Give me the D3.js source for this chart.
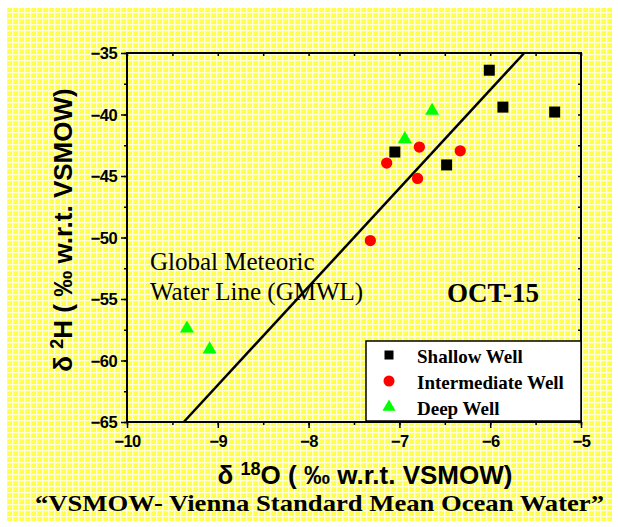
<!DOCTYPE html>
<html>
<head>
<meta charset="utf-8">
<script src="https://cdn.jsdelivr.net/npm/d3@7"></script>
<style>
  body { margin: 0; background: #fff; }
  svg { display: block; }
</style>
</head>
<body>
<div id="chart"></div>
<script>
// data
var shallowX = [-6.01, -5.86, -5.29, -7.05, -6.48];
var shallowY = [-36.4, -39.4, -39.8, -43.05, -44.1];
var intermX = [-7.14, -6.78, -6.33, -6.80, -7.32];
var intermY = [-43.95, -42.65, -42.95, -45.2, -50.25];
var deepX = [-6.64, -6.94, -9.34, -9.09];
var deepY = [-39.7, -42.0, -57.4, -59.1];
var xTicks = [-10, -9, -8, -7, -6, -5];
var yTicks = [-65, -60, -55, -50, -45, -40, -35];
var seriesNames = ["Shallow Well", "Intermediate Well", "Deep Well"];
// GMWL: d2H = 8 * d18O + 10
var gmwlX = [-9.375, -5.625];

var W = 618, H = 527;
var margin = {top: 53, right: 37, bottom: 105, left: 127};
var width = W - margin.left - margin.right,
    height = H - margin.top - margin.bottom;

var svg = d3.select("#chart").append("svg")
    .attr("width", W)
    .attr("height", H);

// graph paper background
var defs = svg.append("defs");
var pat = defs.append("pattern")
    .attr("id", "paper")
    .attr("width", 6).attr("height", 6)
    .attr("patternUnits", "userSpaceOnUse");
pat.append("rect").attr("width", 6).attr("height", 6).attr("fill", "#ffff4a");
pat.append("rect").attr("x", 0).attr("y", 0).attr("width", 6).attr("height", 1.3).attr("fill", "#ffffd8");
pat.append("rect").attr("x", 0).attr("y", 0).attr("width", 1.3).attr("height", 6).attr("fill", "#ffffd8");
pat.append("rect").attr("x", 3).attr("y", 3).attr("width", 1).attr("height", 1).attr("fill", "#ffffb0");

svg.append("rect")
    .attr("x", 7).attr("y", 8)
    .attr("width", 605).attr("height", 513)
    .attr("fill", "url(#paper)");

var g = svg.append("g")
    .attr("transform", "translate(" + margin.left + "," + margin.top + ")");

var x = d3.scaleLinear().domain([-10, -5]).range([0, width]);
var y = d3.scaleLinear().domain([-65, -35]).range([height, 0]);

var minorX = d3.range(-10, -4.99, 0.5);
var minorY = d3.range(-65, -34.99, 2.5);

// minor ticks
g.append("g")
    .attr("transform", "translate(0," + height + ")")
    .call(d3.axisBottom(x).tickValues(minorX).tickSize(3).tickFormat(""));
g.append("g")
    .call(d3.axisLeft(y).tickValues(minorY).tickSize(3).tickFormat(""));
g.append("g")
    .call(d3.axisTop(x).tickValues(minorX).tickSize(-3).tickFormat(""));
g.append("g")
    .attr("transform", "translate(" + width + ",0)")
    .call(d3.axisRight(y).tickValues(minorY).tickSize(-3).tickFormat(""));

// major ticks + labels
var xAxis = g.append("g")
    .attr("transform", "translate(0," + height + ")")
    .call(d3.axisBottom(x).tickValues(xTicks).tickSize(6).tickPadding(5).tickFormat(d3.format("d")));
var yAxis = g.append("g")
    .call(d3.axisLeft(y).tickValues(yTicks).tickSize(6).tickPadding(4).tickFormat(d3.format("d")));

g.selectAll(".domain").remove();
g.selectAll(".tick line").attr("stroke", "#000").attr("stroke-width", 1.5);
g.selectAll(".tick text")
    .attr("fill", "#000")
    .style("font-family", "'Liberation Sans', Arial, sans-serif")
    .style("font-weight", "bold")
    .style("font-size", "16.5px")
    .style("letter-spacing", "-0.6px");
xAxis.selectAll(".tick text").attr("dy", "0.85em");
yAxis.selectAll(".tick text").attr("dy", "0.36em");

// frame
g.append("rect")
    .attr("width", width).attr("height", height)
    .attr("fill", "none")
    .attr("stroke", "#000")
    .attr("stroke-width", 2);

// GMWL line
var line = d3.line()
    .x(function(d) { return x(d); })
    .y(function(d) { return y(8 * d + 10); });
g.append("path")
    .datum(gmwlX)
    .attr("d", line)
    .attr("fill", "none")
    .attr("stroke", "#000")
    .attr("stroke-width", 2.5);

// line annotation
var note = g.append("text")
    .style("font-family", "'Liberation Serif', 'Times New Roman', serif")
    .style("font-size", "25px")
    .attr("fill", "#000");
note.append("tspan").attr("x", 23).attr("y", 217).text("Global Meteoric");
note.append("tspan").attr("x", 23).attr("y", 247).text("Water Line (GMWL)");

g.append("text")
    .attr("x", 320).attr("y", 249)
    .style("font-family", "'Liberation Serif', 'Times New Roman', serif")
    .style("font-weight", "bold")
    .style("font-size", "27px")
    .attr("fill", "#000")
    .text("OCT-15");

// points
var shallow = shallowX.map(function(d, i) { return {x: d, y: shallowY[i]}; });
var interm = intermX.map(function(d, i) { return {x: d, y: intermY[i]}; });
var deep = deepX.map(function(d, i) { return {x: d, y: deepY[i]}; });

g.selectAll(".shallow").data(shallow).enter().append("path")
    .attr("class", "shallow")
    .attr("transform", function(d) { return "translate(" + x(d.x) + "," + y(d.y) + ")"; })
    .attr("d", d3.symbol().type(d3.symbolSquare).size(121))
    .attr("fill", "#000");

g.selectAll(".interm").data(interm).enter().append("path")
    .attr("class", "interm")
    .attr("transform", function(d) { return "translate(" + x(d.x) + "," + y(d.y) + ")"; })
    .attr("d", d3.symbol().type(d3.symbolCircle).size(100))
    .attr("fill", "#ff0000");

g.selectAll(".deep").data(deep).enter().append("path")
    .attr("class", "deep")
    .attr("transform", function(d) { return "translate(" + x(d.x) + "," + y(d.y) + ")"; })
    .attr("d", d3.symbol().type(d3.symbolTriangle).size(85))
    .attr("fill", "#00ff00");

// legend
var lg = g.append("g").attr("transform", "translate(" + (366 - margin.left) + "," + (341 - margin.top) + ")");
lg.append("rect")
    .attr("width", 581 - 366).attr("height", 80)
    .attr("fill", "#fff")
    .attr("stroke", "#000")
    .attr("stroke-width", 1.5);

var legSymbols = [
    {type: d3.symbolSquare, size: 81, color: "#000"},
    {type: d3.symbolCircle, size: 95, color: "#ff0000"},
    {type: d3.symbolTriangle, size: 75, color: "#00ff00"}
];
var items = lg.selectAll(".item").data(seriesNames).enter().append("g")
    .attr("class", "item")
    .attr("transform", function(d, i) { return "translate(0," + (14 + i * 26) + ")"; });
items.append("path")
    .attr("transform", "translate(23,0)")
    .attr("d", function(d, i) { return d3.symbol().type(legSymbols[i].type).size(legSymbols[i].size)(); })
    .attr("fill", function(d, i) { return legSymbols[i].color; });
items.append("text")
    .attr("x", 51)
    .attr("y", 8)
    .style("font-family", "'Liberation Serif', 'Times New Roman', serif")
    .style("font-weight", "bold")
    .style("font-size", "19px")
    .attr("fill", "#000")
    .text(function(d) { return d; });

// axis titles
var xt = svg.append("text")
    .attr("x", 365).attr("y", 484)
    .attr("text-anchor", "middle")
    .style("font-family", "'Liberation Sans', Arial, sans-serif")
    .style("font-weight", "bold")
    .style("font-size", "26px")
    .attr("fill", "#000");
xt.append("tspan").text("δ ");
xt.append("tspan").attr("dy", -9).style("font-size", "18px").text("18");
xt.append("tspan").attr("dy", 9).text("O ( ‰ w.r.t. VSMOW)");

var yt = svg.append("text")
    .attr("transform", "translate(72,230) rotate(-90)")
    .attr("text-anchor", "middle")
    .style("font-family", "'Liberation Sans', Arial, sans-serif")
    .style("font-weight", "bold")
    .style("font-size", "26px")
    .attr("fill", "#000");
yt.append("tspan").text("δ ");
yt.append("tspan").attr("dy", -9).style("font-size", "18px").text("2");
yt.append("tspan").attr("dy", 9).text("H ( ‰ w.r.t. VSMOW)");

svg.append("text")
    .attr("x", 35).attr("y", 511)
    .attr("textLength", 569)
    .attr("lengthAdjust", "spacingAndGlyphs")
    .style("font-family", "'Liberation Serif', 'Times New Roman', serif")
    .style("font-weight", "bold")
    .style("font-size", "23px")
    .attr("fill", "#000")
    .text("“VSMOW- Vienna Standard Mean Ocean Water”");
</script>
</body>
</html>
